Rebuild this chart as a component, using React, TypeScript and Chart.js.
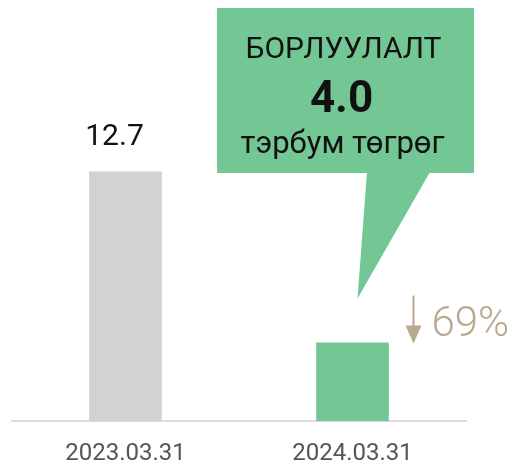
import React, { useEffect, useRef } from "react";
import { Chart, registerables } from "chart.js";

Chart.register(...registerables);

const categories = ["2023.03.31", "2024.03.31"];
const salesValues = [12.7, 4.0];
const valueLabels = ["12.7", ""];
const barColors = ["#d1d2d4", "#73c795"];
const calloutLines = ["БОРЛУУЛАЛТ", "4.0", "тэрбум төгрөг"];
const changeLabel = "69%";

const FONT = "Roboto, 'Noto Sans', sans-serif";

const overlayPlugin = {
  id: "overlay",
  afterDraw(chart: any) {
    const ctx = chart.ctx;
    const meta = chart.getDatasetMeta(0);
    const b0 = meta.data[0];
    const b1 = meta.data[1];
    ctx.save();

    // value label above first bar
    ctx.fillStyle = "#111";
    ctx.font = `30px ${FONT}`;
    ctx.textAlign = "center";
    ctx.textBaseline = "alphabetic";
    ctx.fillText(valueLabels[0], b0.x - 11, b0.y - 27);

    // callout box
    const bx = b1.x;
    const by = b1.y;
    const left = 217, right = 474, top = 8, bottom = 173;
    ctx.fillStyle = "#73c795";
    ctx.fillRect(left, top, right - left, bottom - top);
    ctx.beginPath();
    ctx.moveTo(367, bottom - 1);
    ctx.lineTo(430, bottom - 1);
    ctx.lineTo(bx + 5, by - 44);
    ctx.closePath();
    ctx.fill();

    const cx = (left + right) / 2 - 2;
    ctx.fillStyle = "#111";
    ctx.textAlign = "center";
    ctx.font = `30px ${FONT}`;
    ctx.fillText(calloutLines[0], cx, 58);
    ctx.font = `bold 44px ${FONT}`;
    ctx.fillText(calloutLines[1], cx - 2, 112);
    ctx.font = `31px ${FONT}`;
    ctx.fillText(calloutLines[2], cx - 1, 153);

    // down arrow
    const ac = "#b9a78f";
    const ax = b1.x + 61;
    ctx.strokeStyle = ac;
    ctx.fillStyle = ac;
    ctx.lineWidth = 2;
    ctx.beginPath();
    ctx.moveTo(ax, by - 47);
    ctx.lineTo(ax, by - 16);
    ctx.stroke();
    ctx.beginPath();
    ctx.moveTo(ax - 8, by - 17);
    ctx.lineTo(ax + 8, by - 17);
    ctx.lineTo(ax, by + 1);
    ctx.closePath();
    ctx.fill();

    ctx.font = `300 42px ${FONT}`;
    ctx.textAlign = "left";
    ctx.fillText(changeLabel, ax + 18, by - 7);
    ctx.restore();
  },
};

export default function App() {
  const ref = useRef<HTMLCanvasElement>(null);
  useEffect(() => {
    document.body.style.margin = "0";
    const chart = new Chart(ref.current!, {
      type: "bar",
      data: {
        labels: categories,
        datasets: [
          {
            data: salesValues,
            backgroundColor: barColors,
            barPercentage: 0.32,
            categoryPercentage: 1,
          },
        ],
      },
      options: {
        responsive: false,
        animation: false,
        layout: { padding: { left: 12, right: 47, top: 28, bottom: -18 } },
        plugins: { legend: { display: false }, tooltip: { enabled: false } },
        scales: {
          x: {
            grid: { display: false },
            border: { display: true, color: "#dddddd", width: 2 },
            ticks: { color: "#555", font: { family: FONT, size: 24 }, padding: 10 },
          },
          y: { display: false, min: 0, max: 20 },
        },
      },
      plugins: [overlayPlugin],
    });
    return () => chart.destroy();
  }, []);
  return <canvas ref={ref} width={513} height={460} style={{ display: "block" }} />;
}
